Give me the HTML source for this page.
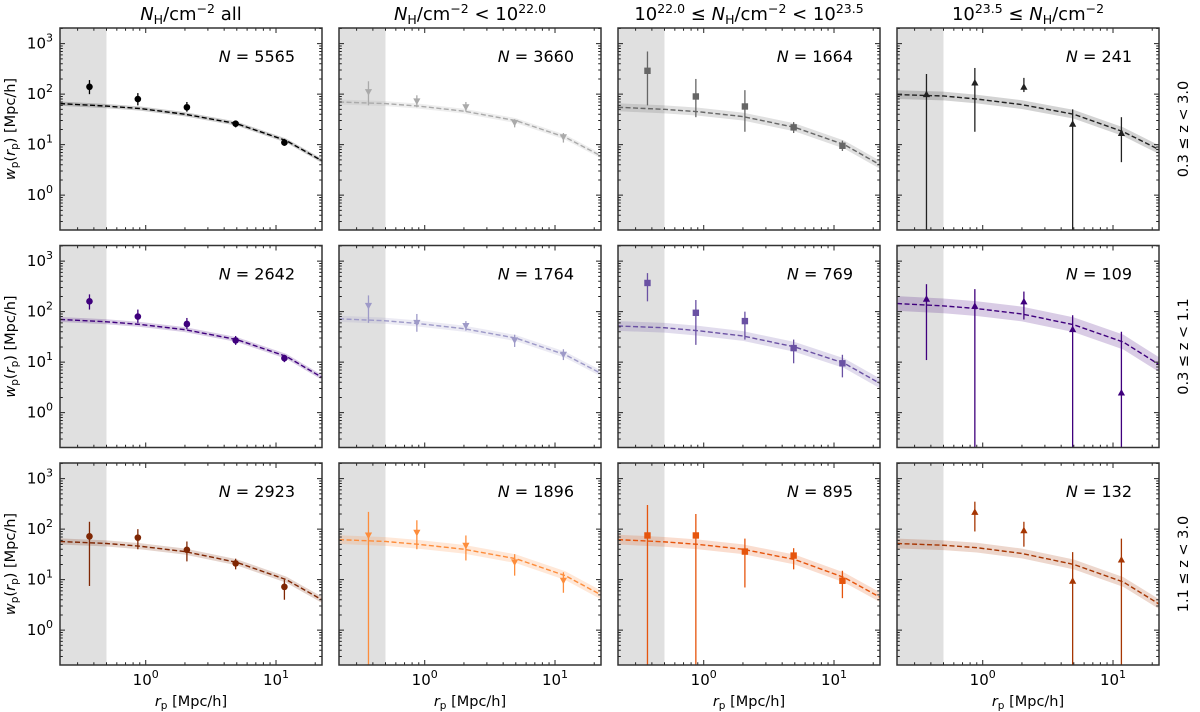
<!DOCTYPE html>
<html><head><meta charset="utf-8"><style>
html,body{margin:0;padding:0;background:#fff;}
svg{display:block;font-family:"DejaVu Sans","Liberation Sans",sans-serif;}
</style></head><body>
<svg id="chart" width="1200" height="712" viewBox="0 0 1200 712" xmlns="http://www.w3.org/2000/svg"></svg>
<script>
const xPts = [0.37, 0.87, 2.07, 4.9, 11.6];
const modelX = [0.22, 0.5, 0.9, 2, 5, 12, 22.5];
const shadeMax = 0.5;
const nLabels = [["5565","3660","1664","241"],["2642","1764","769","109"],["2923","1896","895","132"]];
const rowLabels = ["0.3 \u2264 z < 3.0","0.3 \u2264 z < 1.1","1.1 \u2264 z < 3.0"];
const yTicks = [0,1,2,3];
const xTicks = [0,1];
const colors = [["#000000","#aaaaaa","#666666","#222222"],["#3f007d","#9e9ac8","#6a51a3","#3f007d"],["#7f2704","#fd8d3c","#e6550d","#a63603"]];
const markers = ["circle","down","square","up"];
// row 1
const y00=[140,80,55,26,11], lo00=[100,60,45,22,9.5], hi00=[190,105,70,30,13], m00=[65,58,52,40,26,12,4.8], b00=0.1;
const y01=[110,72,55,27,14], lo01=[60,55,45,22,11], hi01=[180,95,70,32,17], m01=[70,65,58,46,30,14,6], b01=0.12;
const y02=[290,90,57,22,9.5], lo02=[60,35,18,17,7.5], hi02=[700,200,120,28,12], m02=[55,50,45,36,22,10,4], b02=0.2;
const y03=[100,170,140,26,17], lo03=[0.1,18,110,0.1,4.5], hi03=[250,330,210,50,35], m03=[98,92,80,62,40,18,8], b03=0.22;
// row 2
const y10=[160,80,57,27,12], lo10=[110,60,45,22,10], hi10=[220,110,75,33,14], m10=[70,63,56,44,28,13,5], b10=0.12;
const y11=[130,60,52,27,14], lo11=[60,40,42,20,11], hi11=[210,90,65,35,18], m11=[72,66,58,46,30,14,6], b11=0.15;
const y12=[370,95,65,19,9.5], lo12=[160,22,28,9.5,5], hi12=[580,170,100,28,14], m12=[52,48,42,33,20,9.5,3.8], b12=0.25;
const y13=[180,130,160,45,2.5], lo13=[11,0.1,70,0.1,0.1], hi13=[350,280,250,85,40], m13=[145,130,115,90,55,25,9], b13=0.4;
// row 3
const y20=[72,68,39,21,7.2], lo20=[7.5,40,23,16,4], hi20=[140,100,57,26,10], m20=[57,52,46,36,22,10,4], b20=0.15;
const y21=[75,85,47,22,9.5], lo21=[0.1,40,24,12,5.5], hi21=[220,150,75,32,14], m21=[62,57,50,40,26,12,5], b21=0.22;
const y22=[75,75,36,30,9.5], lo22=[0.1,0.1,7,16,4.3], hi22=[300,200,65,42,15], m22=[62,56,50,40,25,11,4.5], b22=0.25;
const y23=[null,220,95,9.5,25], lo23=[null,90,45,0.1,0.1], hi23=[null,350,140,35,65], m23=[52,48,43,33,20,9,3.3], b23=0.25;

const P = {y:[[y00,y01,y02,y03],[y10,y11,y12,y13],[y20,y21,y22,y23]],
 lo:[[lo00,lo01,lo02,lo03],[lo10,lo11,lo12,lo13],[lo20,lo21,lo22,lo23]],
 hi:[[hi00,hi01,hi02,hi03],[hi10,hi11,hi12,hi13],[hi20,hi21,hi22,hi23]],
 m:[[m00,m01,m02,m03],[m10,m11,m12,m13],[m20,m21,m22,m23]],
 b:[[b00,b01,b02,b03],[b10,b11,b12,b13],[b20,b21,b22,b23]]};

const NS="http://www.w3.org/2000/svg";
const svg=document.getElementById('chart');
function mk(tag,attrs,parent){const e=document.createElementNS(NS,tag);for(const k in attrs)e.setAttribute(k,attrs[k]);(parent||svg).appendChild(e);return e;}
const W=262,H=202,X0=-0.658,X1=1.353,Y0=-0.69,Y1=3.31;
const titles=[
 '<tspan font-style="italic">N</tspan><tspan font-size="12.5" dy="4">H</tspan><tspan dy="-4">/cm</tspan><tspan font-size="12.5" dy="-7">\u22122</tspan><tspan dy="7"> all</tspan>',
 '<tspan font-style="italic">N</tspan><tspan font-size="12.5" dy="4">H</tspan><tspan dy="-4">/cm</tspan><tspan font-size="12.5" dy="-7">\u22122</tspan><tspan dy="7"> &lt; 10</tspan><tspan font-size="12.5" dy="-7">22.0</tspan>',
 '<tspan>10</tspan><tspan font-size="12.5" dy="-7">22.0</tspan><tspan dy="7"> \u2264 </tspan><tspan font-style="italic">N</tspan><tspan font-size="12.5" dy="4">H</tspan><tspan dy="-4">/cm</tspan><tspan font-size="12.5" dy="-7">\u22122</tspan><tspan dy="7"> &lt; 10</tspan><tspan font-size="12.5" dy="-7">23.5</tspan>',
 '<tspan>10</tspan><tspan font-size="12.5" dy="-7">23.5</tspan><tspan dy="7"> \u2264 </tspan><tspan font-style="italic">N</tspan><tspan font-size="12.5" dy="4">H</tspan><tspan dy="-4">/cm</tspan><tspan font-size="12.5" dy="-7">\u22122</tspan>'];

for(let r=0;r<3;r++)for(let c=0;c<4;c++){
 const L=60+c*279, T=28+r*217.5;
 const sx=v=>L+(Math.log10(v)-X0)/(X1-X0)*W;
 const sy=v=>T+(Y1-Math.log10(Math.max(v,1e-3)))/(Y1-Y0)*H;
 const g=mk('g',{});
 
 
 const cid='clip'+r+c;
 const cp=mk('clipPath',{id:cid},g); mk('rect',{x:L,y:T,width:W,height:H},cp);
 const pg=mk('g',{'clip-path':'url(#'+cid+')'},g);
 const sh=mk('rect',{x:L,y:T,width:sx(shadeMax)-L,height:H,fill:'#e0e0e0'},pg);
 
 
 const col=colors[r][c], m=P.m[r][c], b=P.b[r][c];
 let up='',dn='';
 modelX.forEach((x,i)=>{up+=(i?'L':'M')+sx(x)+','+sy(m[i]*(1+b));});
 for(let i=modelX.length-1;i>=0;i--)dn+='L'+sx(modelX[i])+','+sy(m[i]/(1+b));
 const band=mk('path',{d:up+dn+'Z',fill:col,'fill-opacity':0.2,stroke:'none'},pg);
 
 
 let ld='';modelX.forEach((x,i)=>{ld+=(i?'L':'M')+sx(x)+','+sy(m[i]);});
 const ml=mk('path',{d:ld,fill:'none',stroke:col,'stroke-width':1.4,'stroke-dasharray':'5,2.5'},pg);
 
 
 const yy=P.y[r][c],lo=P.lo[r][c],hi=P.hi[r][c];
 xPts.forEach((x,i)=>{
  if(yy[i]==null)return;
  const px=sx(x),py=sy(yy[i]);
  const eb=mk('line',{x1:px,x2:px,y1:sy(lo[i]),y2:sy(hi[i]),stroke:col,'stroke-width':1.3},pg);
  
  
  let mkEl;const mt=markers[c];
  if(mt==='circle')mkEl=mk('circle',{cx:px,cy:py,r:3.3,fill:col},pg);
  else if(mt==='square')mkEl=mk('rect',{x:px-3.2,y:py-3.2,width:6.4,height:6.4,fill:col},pg);
  else if(mt==='down')mkEl=mk('path',{d:`M${px-3.6},${py-3}L${px+3.6},${py-3}L${px},${py+3.6}Z`,fill:col},pg);
  else mkEl=mk('path',{d:`M${px-3.6},${py+3}L${px+3.6},${py+3}L${px},${py-3.6}Z`,fill:col},pg);
  
  
 });
 let td='';
 for(let d=-1;d<=3;d++)for(let k=1;k<=9;k++){const v=k*Math.pow(10,d),lv=Math.log10(v);if(lv<Y0||lv>Y1)continue;const y=sy(v),len=k===1?5:2.8;td+=`M${L},${y}h${len}M${L+W},${y}h${-len}`;}
 for(let d=-1;d<=1;d++)for(let k=1;k<=9;k++){const v=k*Math.pow(10,d),lv=Math.log10(v);if(lv<X0||lv>X1)continue;const x=sx(v),len=k===1?5:2.8;td+=`M${x},${T}v${len}M${x},${T+H}v${-len}`;}
 mk('path',{d:td,stroke:'#222','stroke-width':1,fill:'none'},g);
 const fr=mk('rect',{x:L,y:T,width:W,height:H,fill:'none',stroke:'#333','stroke-width':1.5},g);
 
 
 const nt=mk('text',{x:L+W-27,y:T+34,'font-size':16,'text-anchor':'end'},g);
 nt.innerHTML='<tspan font-style="italic">N</tspan> = '+nLabels[r][c];
 
 
 if(c===0){
  yTicks.forEach(t=>{const tl=mk('text',{x:L-7,y:sy(Math.pow(10,t))+5,'font-size':15,'text-anchor':'end'},g);
   tl.innerHTML='10<tspan font-size="11" dy="-7">'+t+'</tspan>';
   
   });
  const yl=mk('text',{x:0,y:0,'font-size':14.5,'text-anchor':'middle',transform:`translate(${L-45},${T+H/2}) rotate(-90)`},g);
  yl.innerHTML='<tspan font-style="italic">w</tspan><tspan font-size="10.5" dy="3">p</tspan><tspan dy="-3">(</tspan><tspan font-style="italic">r</tspan><tspan font-size="10.5" dy="3">p</tspan><tspan dy="-3">) [Mpc/h]</tspan>';
  
  
 }
 if(r===2){
  xTicks.forEach(t=>{const tl=mk('text',{x:sx(Math.pow(10,t)),y:T+H+20,'font-size':15,'text-anchor':'middle'},g);
   tl.innerHTML='10<tspan font-size="11" dy="-7">'+t+'</tspan>';
   
   });
  const xl=mk('text',{x:L+W/2,y:T+H+41,'font-size':14.5,'text-anchor':'middle'},g);
  xl.innerHTML='<tspan font-style="italic">r</tspan><tspan font-size="10.5" dy="3">p</tspan><tspan dy="-3"> [Mpc/h]</tspan>';
  
  
 }
 if(r===0){
  const tt=mk('text',{x:L+W/2,y:T-8,'font-size':18,'text-anchor':'middle'},g);
  tt.innerHTML=titles[c];
  
  
 }
 if(c===3){
  const rl=mk('text',{x:0,y:0,'font-size':14.5,'text-anchor':'middle',transform:`translate(1188,${T+H/2}) rotate(-90)`},g);
  rl.textContent=rowLabels[r];
  
  
 }
}
</script>
</body></html>
